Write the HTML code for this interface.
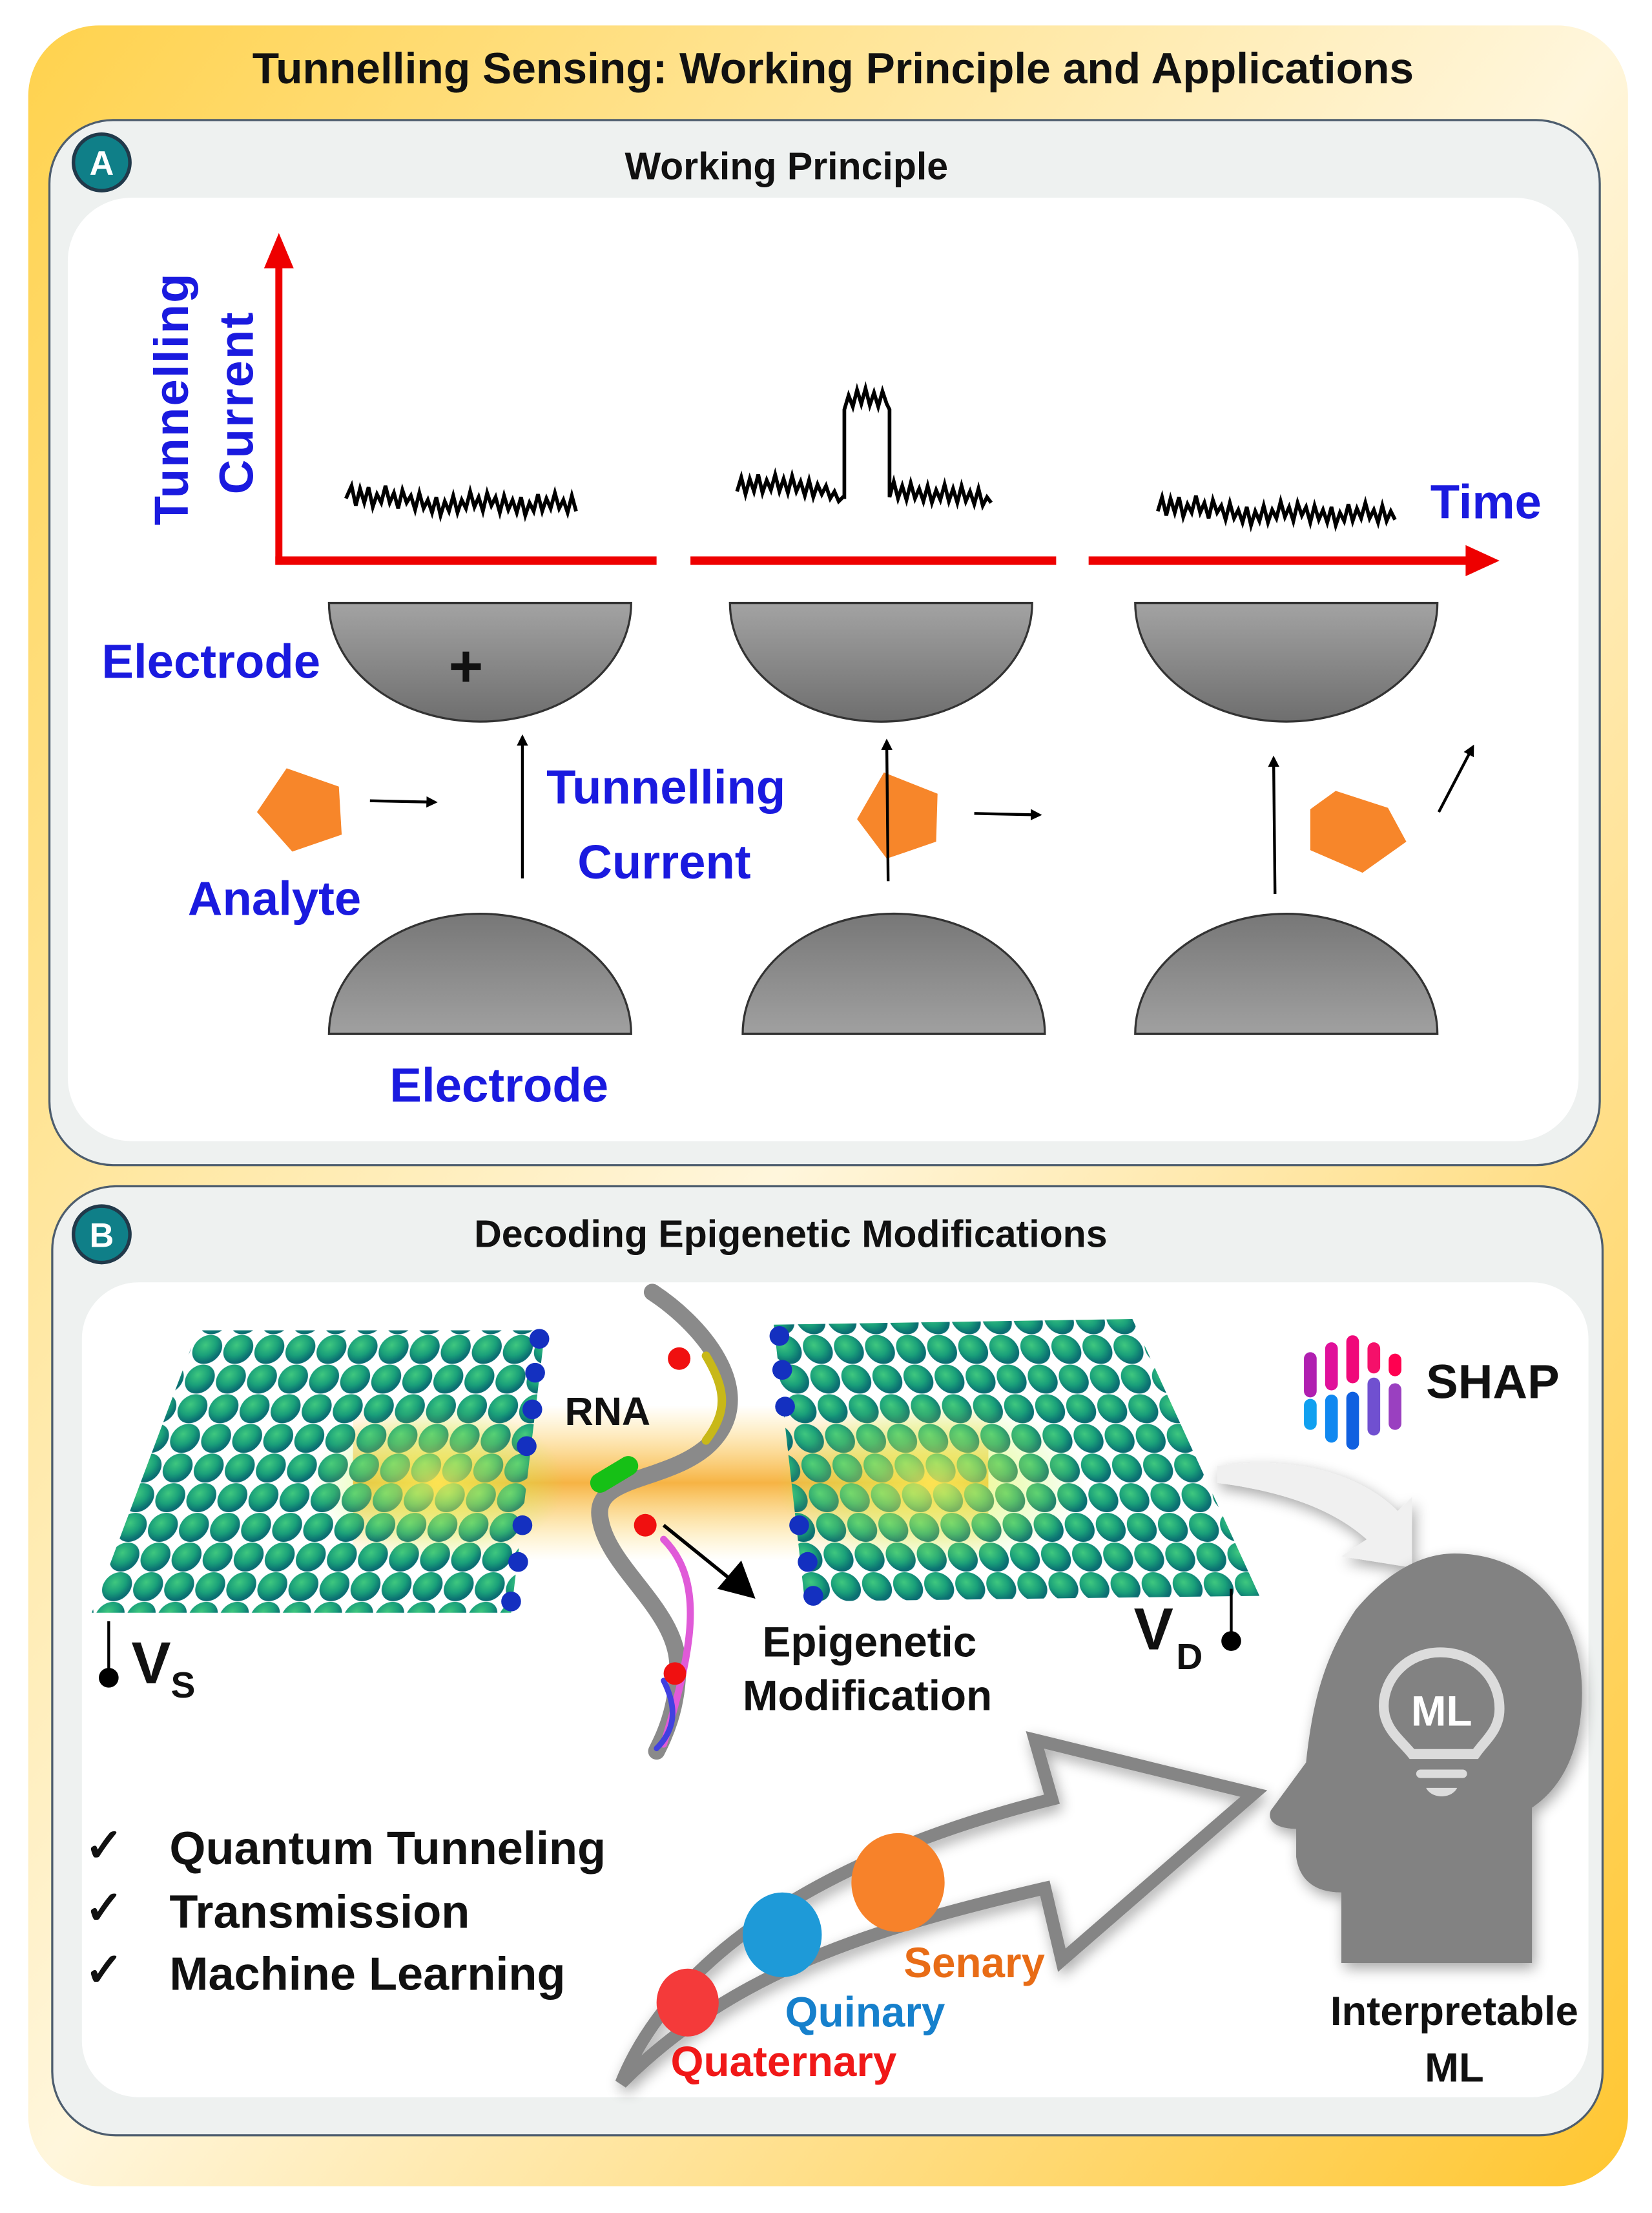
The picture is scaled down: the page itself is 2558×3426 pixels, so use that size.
<!DOCTYPE html>
<html><head><meta charset="utf-8"><style>
html,body{margin:0;padding:0;background:#fff}
svg{display:block}
</style></head><body>
<svg width="2558" height="3426" viewBox="0 0 1170 1567" preserveAspectRatio="none" xmlns="http://www.w3.org/2000/svg" font-family="Liberation Sans, sans-serif">
<defs>
<linearGradient id="bg" x1="0" y1="0" x2="1" y2="1">
<stop offset="0" stop-color="#ffd24d"/><stop offset="0.5" stop-color="#fff6dc"/><stop offset="1" stop-color="#ffc630"/>
</linearGradient>
<linearGradient id="el" x1="0" y1="0" x2="0" y2="1">
<stop offset="0" stop-color="#a3a3a3"/><stop offset="1" stop-color="#6e6e6e"/>
</linearGradient>
<linearGradient id="el2" x1="0" y1="0" x2="0" y2="1">
<stop offset="0" stop-color="#777"/><stop offset="1" stop-color="#a0a0a0"/>
</linearGradient>
<radialGradient id="ball" cx="0.4" cy="0.35" r="0.6">
<stop offset="0" stop-color="#3fc77f"/><stop offset="0.6" stop-color="#1aa07a"/><stop offset="1" stop-color="#0b6f72"/>
</radialGradient>
<pattern id="latL" width="22" height="21" patternUnits="userSpaceOnUse" patternTransform="skewX(-14)">
<circle cx="11" cy="10.5" r="10.3" fill="url(#ball)"/>
</pattern>
<pattern id="latR" width="22" height="21" patternUnits="userSpaceOnUse" patternTransform="skewX(14)">
<circle cx="11" cy="10.5" r="10.3" fill="url(#ball)"/>
</pattern>
<linearGradient id="glow" x1="0" y1="0" x2="0" y2="1">
<stop offset="0" stop-color="#ffd34d" stop-opacity="0"/><stop offset="0.5" stop-color="#f5a623" stop-opacity="0.85"/><stop offset="1" stop-color="#ffe066" stop-opacity="0"/>
</linearGradient>
<radialGradient id="gl" cx="0.5" cy="0.5" r="0.5">
<stop offset="0" stop-color="#ffee55" stop-opacity="0.8"/><stop offset="1" stop-color="#aaff44" stop-opacity="0"/>
</radialGradient>
<filter id="sh" x="-20%" y="-20%" width="140%" height="140%"><feGaussianBlur in="SourceAlpha" stdDeviation="5"/><feOffset dx="2" dy="4"/><feComponentTransfer><feFuncA type="linear" slope="0.35"/></feComponentTransfer><feMerge><feMergeNode/><feMergeNode in="SourceGraphic"/></feMerge></filter>
<marker id="ar" markerWidth="8" markerHeight="8" refX="6" refY="4" orient="auto" markerUnits="userSpaceOnUse"><path d="M0,0 L8,4 L0,8 z" fill="#000"/></marker>
</defs>

<rect x="20" y="18" width="1133" height="1530" rx="50" fill="url(#bg)"/>
<text x="590" y="59" font-size="31" font-weight="bold" text-anchor="middle" fill="#111">Tunnelling Sensing: Working Principle and Applications</text>

<!-- Panel A -->
<rect x="35" y="85" width="1098" height="740" rx="45" fill="#eef1f0" stroke="#4d5d6e" stroke-width="1.5"/>
<rect x="48" y="140" width="1070" height="668" rx="45" fill="#fff"/>
<circle cx="72" cy="115" r="20" fill="#0f7f88" stroke="#21394a" stroke-width="2.5"/>
<text x="72" y="124" font-size="24" font-weight="bold" fill="#fff" text-anchor="middle">A</text>
<text x="557" y="127" font-size="27" font-weight="bold" text-anchor="middle" fill="#111">Working Principle</text>

<g fill="#e00" stroke="none">
<rect x="195" y="180" width="5" height="220"/>
<path d="M187,190 L197.5,165 L208,190 z"/>
<rect x="195" y="394" width="270" height="6"/>
<rect x="489" y="394" width="259" height="6"/>
<rect x="771" y="394" width="270" height="6"/>
<path d="M1038,386 L1062,397 L1038,408 z"/>
</g>
<text transform="translate(133,372) rotate(-90)" font-size="34" font-weight="bold" fill="#1a1adf" style="letter-spacing:1px">Tunnelling</text>
<text transform="translate(179,350) rotate(-90)" font-size="34" font-weight="bold" fill="#1a1adf" style="letter-spacing:1px">Current</text>
<text x="1013" y="367" font-size="34" font-weight="bold" fill="#1a1adf">Time</text>

<g fill="none" stroke="#000" stroke-width="2.6">
<path d="M245,353 l4,-9 l3,14 l3,-12 l3,10 l3,-11 l3,14 l3,-9 l3,6 l3,-12 l3,12 l3,-7 l3,11 l3,-13 l3,9 l3,-5 l3,10 l3,-12 l3,11 l3,-6 l3,9 l3,-11 l3,13 l3,-10 l3,7 l3,-11 l3,12 l3,-9 l3,6 l3,-12 l3,11 l3,-7 l3,10 l3,-13 l3,9 l3,-6 l3,11 l3,-12 l3,10 l3,-7 l3,9 l3,-11 l3,13 l3,-9 l3,6 l3,-12 l3,12 l3,-9 l3,7 l3,-11 l3,11 l3,-6 l3,9 l3,-12 l3,11"/>
<path d="M522,348 l3,-10 l3,12 l3,-11 l3,9 l3,-12 l3,13 l3,-9 l3,7 l3,-11 l3,12 l3,-9 l3,10 l3,-12 l3,11 l3,-7 l3,10 l3,-11 l3,12 l3,-9 l3,7 l3,-6 l3,9 l3,-5 l3,7 l3,-3 L598,352 L598,290 l3,-10 l3,8 l3,-12 l3,10 l3,-11 l3,12 l3,-9 l3,10 l3,-11 l3,9 L630,290 L630,352 l3,-11 l3,12 l3,-9 l3,10 l3,-12 l3,11 l3,-7 l3,9 l3,-11 l3,12 l3,-9 l3,7 l3,-11 l3,12 l3,-9 l3,10 l3,-12 l3,11 l3,-7 l3,9 l3,-11 l3,12 l3,-6 l3,4"/>
<path d="M820,362 l3,-10 l3,13 l3,-12 l3,10 l3,-11 l3,14 l3,-9 l3,6 l3,-12 l3,12 l3,-7 l3,11 l3,-13 l3,9 l3,-5 l3,10 l3,-12 l3,11 l3,-6 l3,9 l3,-11 l3,13 l3,-10 l3,7 l3,-11 l3,12 l3,-9 l3,6 l3,-12 l3,11 l3,-7 l3,10 l3,-13 l3,9 l3,-6 l3,11 l3,-12 l3,10 l3,-7 l3,9 l3,-11 l3,13 l3,-9 l3,6 l3,-12 l3,12 l3,-9 l3,7 l3,-11 l3,11 l3,-6 l3,9 l3,-12 l3,11 l3,-7 l3,6"/>
</g>

<g stroke="#333" stroke-width="1.5">
<path d="M233,427 L447,427 A107,84 0 0 1 233,427 z" fill="url(#el)"/>
<path d="M517,427 L731,427 A107,84 0 0 1 517,427 z" fill="url(#el)"/>
<path d="M804,427 L1018,427 A107,84 0 0 1 804,427 z" fill="url(#el)"/>
<path d="M233,732 L447,732 A107,85 0 0 0 233,732 z" fill="url(#el2)"/>
<path d="M526,732 L740,732 A107,85 0 0 0 526,732 z" fill="url(#el2)"/>
<path d="M804,732 L1018,732 A107,85 0 0 0 804,732 z" fill="url(#el2)"/>
</g>
<text x="330" y="486" font-size="42" font-weight="bold" text-anchor="middle" fill="#111">+</text>
<text x="72" y="480" font-size="34" font-weight="bold" fill="#1a1adf">Electrode</text>
<text x="276" y="780" font-size="34" font-weight="bold" fill="#1a1adf">Electrode</text>
<text x="387" y="569" font-size="34" font-weight="bold" fill="#1a1adf">Tunnelling</text>
<text x="409" y="622" font-size="34" font-weight="bold" fill="#1a1adf">Current</text>
<text x="133" y="648" font-size="34" font-weight="bold" fill="#1a1adf">Analyte</text>

<g fill="#f7862a">
<polygon points="203,544 240,557 242,591 207,603 182,575"/>
<polygon points="626,547 664,562 663,596 628,608 607,580"/>
<polygon points="946,560 983,572 996,596 965,618 928,602 928,573"/>
</g>
<g stroke="#000" stroke-width="2" marker-end="url(#ar)">
<line x1="262" y1="567" x2="308" y2="568"/>
<line x1="690" y1="576" x2="736" y2="577"/>
<line x1="1019" y1="575" x2="1043" y2="529"/>
<line x1="370" y1="622" x2="370" y2="522"/>
<line x1="629" y1="624" x2="628" y2="525"/>
<line x1="903" y1="633" x2="902" y2="537"/>
</g>

<!-- Panel B -->
<rect x="37" y="840" width="1098" height="672" rx="45" fill="#eef1f0" stroke="#4d5d6e" stroke-width="1.5"/>
<rect x="58" y="908" width="1067" height="577" rx="40" fill="#fff"/>
<circle cx="72" cy="874" r="20" fill="#0f7f88" stroke="#21394a" stroke-width="2.5"/>
<text x="72" y="883" font-size="24" font-weight="bold" fill="#fff" text-anchor="middle">B</text>
<text x="560" y="883" font-size="27" font-weight="bold" text-anchor="middle" fill="#111">Decoding Epigenetic Modifications</text>

<rect x="250" y="995" width="450" height="110" fill="url(#glow)"/>
<polygon points="140,942 386,942 362,1142 65,1142" fill="url(#latL)"/>
<polygon points="548,938 802,934 892,1130 570,1134" fill="url(#latR)"/>
<ellipse cx="310" cy="1050" rx="90" ry="55" fill="url(#gl)"/>
<ellipse cx="660" cy="1050" rx="110" ry="60" fill="url(#gl)"/>
<g fill="#1430c0">
<circle cx="382" cy="948" r="7"/><circle cx="379" cy="972" r="7"/><circle cx="377" cy="998" r="7"/><circle cx="373" cy="1024" r="7"/><circle cx="370" cy="1080" r="7"/><circle cx="367" cy="1106" r="7"/><circle cx="362" cy="1134" r="7"/>
<circle cx="552" cy="946" r="7"/><circle cx="554" cy="970" r="7"/><circle cx="556" cy="996" r="7"/><circle cx="566" cy="1080" r="7"/><circle cx="572" cy="1106" r="7"/><circle cx="576" cy="1130" r="7"/>
</g>
<!-- RNA helix -->
<g fill="none" stroke-linecap="round">
<path d="M462,915 C500,940 540,990 500,1025 C470,1050 420,1045 425,1075 C430,1110 480,1140 480,1180 C480,1210 470,1230 465,1240" stroke="#8a8a8a" stroke-width="12"/>
<path d="M425,1050 L445,1038" stroke="#16c016" stroke-width="14"/>
<path d="M470,1090 C500,1120 490,1170 470,1235" stroke="#e05ad8" stroke-width="5"/>
<path d="M500,960 C515,985 515,1000 500,1020" stroke="#c8b818" stroke-width="6"/>
<path d="M470,1190 C480,1210 478,1225 465,1238" stroke="#4040e0" stroke-width="4"/>
</g>
<g fill="#f01010"><circle cx="481" cy="962" r="8"/><circle cx="457" cy="1080" r="8"/><circle cx="478" cy="1185" r="8"/></g>
<line x1="470" y1="1080" x2="522" y2="1122" stroke="#000" stroke-width="2.5"/>
<polygon points="535,1132 508,1125 525,1105" fill="#000"/>
<text x="400" y="1009" font-size="28" font-weight="bold" fill="#111">RNA</text>
<text x="540" y="1173" font-size="30" font-weight="bold" fill="#111">Epigenetic</text>
<text x="526" y="1211" font-size="30" font-weight="bold" fill="#111">Modification</text>

<line x1="77" y1="1148" x2="77" y2="1188" stroke="#000" stroke-width="2"/>
<circle cx="77" cy="1188" r="7" fill="#000"/>
<text x="93" y="1192" font-size="42" font-weight="bold" fill="#111">V</text>
<text x="121" y="1202" font-size="26" font-weight="bold" fill="#111">S</text>
<line x1="872" y1="1125" x2="872" y2="1160" stroke="#000" stroke-width="2"/>
<circle cx="872" cy="1162" r="7" fill="#000"/>
<text x="803" y="1168" font-size="42" font-weight="bold" fill="#111">V</text>
<text x="833" y="1182" font-size="26" font-weight="bold" fill="#111">D</text>

<!-- SHAP -->
<g stroke-linecap="round" stroke-width="9">
<line x1="928" y1="962" x2="928" y2="985" stroke="#b01fb0"/>
<line x1="943" y1="955" x2="943" y2="980" stroke="#e0109a"/>
<line x1="958" y1="950" x2="958" y2="975" stroke="#f0087a"/>
<line x1="973" y1="955" x2="973" y2="968" stroke="#f5106a"/>
<line x1="988" y1="963" x2="988" y2="970" stroke="#ff0050"/>
<line x1="928" y1="995" x2="928" y2="1008" stroke="#10a0f0"/>
<line x1="943" y1="992" x2="943" y2="1017" stroke="#1088f0"/>
<line x1="958" y1="990" x2="958" y2="1022" stroke="#1060e0"/>
<line x1="973" y1="980" x2="973" y2="1012" stroke="#7050d0"/>
<line x1="988" y1="984" x2="988" y2="1008" stroke="#9a40c0"/>
</g>
<text x="1010" y="990" font-size="34" font-weight="bold" fill="#111">SHAP</text>

<path d="M862,1038 C920,1030 965,1045 990,1070 L1000,1060 L1000,1110 L950,1102 L968,1090 C940,1065 900,1055 862,1050 z" fill="#f0f0f0" filter="url(#sh)"/>

<!-- head -->
<path d="M1030,1100 C1090,1100 1125,1150 1120,1210 C1117,1250 1100,1270 1085,1280 L1085,1390 L950,1390 L950,1340 C930,1340 920,1330 918,1315 L918,1295 C905,1295 897,1290 900,1282 L925,1248 C930,1200 940,1170 960,1140 C985,1110 1010,1100 1030,1100 z" fill="#828282" filter="url(#sh)"/>
<path d="M1020,1170 C1045,1170 1062,1188 1062,1210 C1062,1225 1052,1232 1045,1242 L1000,1242 C992,1232 980,1224 980,1208 C980,1188 997,1170 1020,1170 z" fill="none" stroke="#dcdcdc" stroke-width="7"/>
<line x1="1006" y1="1256" x2="1036" y2="1256" stroke="#dcdcdc" stroke-width="6" stroke-linecap="round"/>
<path d="M1010,1266 L1032,1266 C1028,1274 1014,1274 1010,1266 z" fill="#dcdcdc"/>
<text x="1021" y="1222" font-size="30" font-weight="bold" fill="#fff" text-anchor="middle">ML</text>

<!-- big arrow -->
<path d="M440,1475 C470,1400 560,1320 745,1274 L733,1232 L888,1270 L752,1388 L740,1337 C620,1365 520,1395 440,1475 z" fill="none" stroke="#858585" stroke-width="9" stroke-linejoin="miter" filter="url(#sh)"/>
<ellipse cx="487" cy="1418" rx="22" ry="24" fill="#f43a3a"/>
<ellipse cx="554" cy="1370" rx="28" ry="30" fill="#1e9ad8"/>
<ellipse cx="636" cy="1333" rx="33" ry="35" fill="#f7822a"/>
<text x="640" y="1400" font-size="30" font-weight="bold" fill="#e86c16">Senary</text>
<text x="556" y="1435" font-size="30" font-weight="bold" fill="#1680cc">Quinary</text>
<text x="475" y="1470" font-size="30" font-weight="bold" fill="#f01818">Quaternary</text>

<g font-size="33" font-weight="bold" fill="#111">
<text x="60" y="1318">✓</text><text x="120" y="1320">Quantum Tunneling</text>
<text x="60" y="1362">✓</text><text x="120" y="1365">Transmission</text>
<text x="60" y="1406">✓</text><text x="120" y="1409">Machine Learning</text>
</g>
<text x="1030" y="1434" font-size="29" font-weight="bold" text-anchor="middle" fill="#111">Interpretable</text>
<text x="1030" y="1474" font-size="29" font-weight="bold" text-anchor="middle" fill="#111">ML</text>
</svg>
</body></html>
